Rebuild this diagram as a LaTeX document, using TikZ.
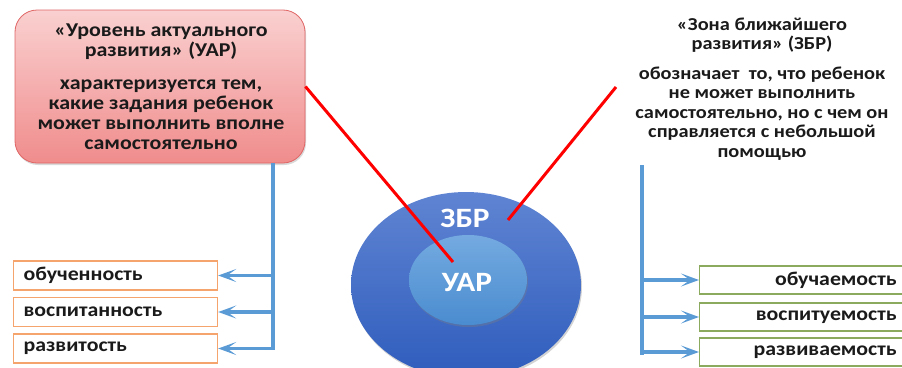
\documentclass[tikz,border=0pt]{standalone}
\usepackage{fontspec}
\setmainfont{Carlito}[FakeStretch=1.12]
\usetikzlibrary{arrows.meta,shadows,shapes.geometric}

\definecolor{boxred}{HTML}{E06666}
\definecolor{pinktop}{HTML}{FAD0D0}
\definecolor{pinkbot}{HTML}{F08C8C}
\definecolor{linkblue}{HTML}{5B9BD5}
\definecolor{boxorange}{HTML}{F4A46C}
\definecolor{boxgreen}{HTML}{8CAA5E}
\definecolor{zbrtop}{HTML}{5F84D2}
\definecolor{zbrbot}{HTML}{2F5DBD}
\definecolor{uartop}{HTML}{74AAE0}
\definecolor{uarbot}{HTML}{4A8CD0}
\definecolor{ink}{HTML}{1A1A1A}

\tikzset{
  txt/.style={text=ink, font=\bfseries\fontsize{19.6}{20}\selectfont, align=center, inner sep=0pt},
  rtxt/.style={text=ink, font=\bfseries\fontsize{18.2}{19.4}\selectfont, align=center, inner sep=0pt},
  leftbox/.style={draw=boxorange, line width=1.2pt, minimum height=29pt, text width=184pt,
    inner xsep=10pt, align=left, text=ink, font=\bfseries\fontsize{19.5}{20}\selectfont},
  rightbox/.style={draw=boxgreen, line width=1.2pt, minimum height=28pt, text width=188pt,
    inner xsep=9pt, align=right, text=ink, font=\bfseries\fontsize{19.5}{20}\selectfont},
  trunk/.style={linkblue, line width=3.6pt},
  branch/.style={linkblue, line width=3.4pt, -{Stealth[length=18pt,width=13pt,inset=9pt]}},
  pointer/.style={red, line width=3pt},
  zone/.style={ellipse, draw=none, drop shadow={shadow xshift=1pt, shadow yshift=-2pt, opacity=0.35}},
}

\begin{document}
\begin{tikzpicture}[x=1pt,y=-1pt]
    \useasboundingbox (0,0) rectangle (902,367);

    % zones
    \node[zone, minimum width=230pt, minimum height=186pt, top color=zbrtop, bottom color=zbrbot] (zbr) at (466,285) {};
    \node[zone, minimum width=118pt, minimum height=90pt, top color=uartop, bottom color=uarbot] (uar) at (468,280) {};
    \node[white, font=\bfseries\fontsize{28}{30}\selectfont] (zbrlbl) at (465,218) {ЗБР};
    \node[white, font=\bfseries\fontsize{28}{30}\selectfont] (uarlbl) at (467,283) {УАР};

    % left card
    \node[draw=boxred, line width=0.8pt, rounded corners=22pt, minimum width=290pt, minimum height=153pt,
      top color=pinktop, bottom color=pinkbot,
      drop shadow={shadow xshift=1pt, shadow yshift=-2pt, opacity=0.3}] (uarbox) at (160,86.5) {};
    \node[txt] (uartitle) at (161,42) {«Уровень актуального\\развития» (УАР)};
    \node[txt] (uartext) at (161,115) {характеризуется тем,\\какие задания ребенок\\может выполнить вполне\\самостоятельно};

    % right text
    \node[rtxt] (zbrtitle) at (762,35) {«Зона ближайшего\\развития» (ЗБР)};
    \node[rtxt] (zbrtext) at (762,113.5) {обозначает\ \ то, что ребенок\\не может выполнить\\самостоятельно, но с чем он\\справляется с небольшой\\помощью};

    % pointers
    \coordinate (lptr) at (453,262);
    \coordinate (rtop) at (616,87);
    \coordinate (rptr) at (508,220);
    \draw[pointer] (uarbox.east) -- (lptr);
    \draw[pointer] (rtop) -- (rptr);

    % left list
    \node[leftbox, anchor=west] (ob) at (13,275.5) {обученность};
    \node[leftbox, anchor=west] (vo) at (13,312) {воспитанность};
    \node[leftbox, anchor=west] (ra) at (13,348.5) {развитость};
    \coordinate (ltop) at (273,163);
    \coordinate (lbot) at (273,350);
    \draw[trunk] (ltop) -- (lbot);
    \draw[branch] (ob.east -| ltop) -- (ob.east);
    \draw[branch] (vo.east -| ltop) -- (vo.east);
    \draw[branch] (ra.east -| ltop) -- (ra.east);

    % right list
    \node[rightbox, anchor=west] (obu) at (699,280) {обучаемость};
    \node[rightbox, anchor=west] (vos) at (699,317) {воспитуемость};
    \node[rightbox, anchor=west] (raz) at (699,352) {развиваемость};
    \coordinate (rtopline) at (642,165);
    \coordinate (rbot) at (642,355);
    \draw[trunk] (rtopline) -- (rbot);
    \draw[branch] (obu.west -| rtopline) -- (obu.west);
    \draw[branch] (vos.west -| rtopline) -- (vos.west);
    \draw[branch] (raz.west -| rtopline) -- (raz.west);
\end{tikzpicture}
\end{document}
